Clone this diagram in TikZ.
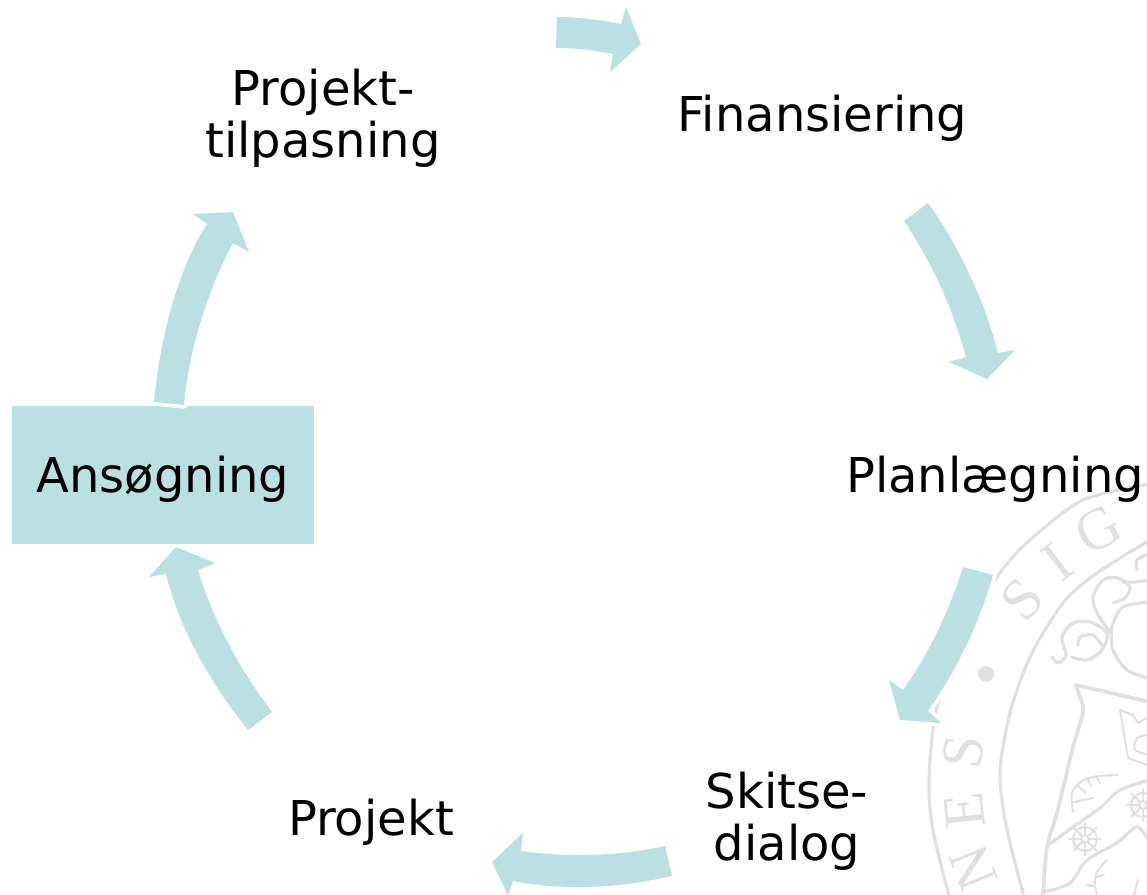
\documentclass[tikz,border=0pt]{standalone}
\usepackage{fontspec}
\setmainfont{DejaVu Sans}
\newfontfamily\sealfont{Liberation Serif}
\definecolor{cyc}{HTML}{BAE0E3}
\definecolor{sealgray}{HTML}{E0E0E0}
\tikzset{
  cyclearrow/.style={fill=cyc,draw=none,preaction={draw=white,line width=5.5pt,line join=round}},
  label/.style={font=\fontsize{36}{39}\selectfont,text=black,inner sep=0pt,align=center},
  sealline/.style={draw=sealgray,line width=2.4pt,line cap=round,line join=round},
  sealthin/.style={draw=sealgray,line width=1.6pt,line cap=round,line join=round},
  sealletter/.style={font=\sealfont\fontsize{44}{44}\selectfont,text=sealgray,inner sep=0pt}
}
\begin{document}
\begin{tikzpicture}[x=.75pt,y=-.75pt]
\useasboundingbox (0,0) rectangle (1147,895);
\begin{scope}
\clip (0,0) rectangle (1147,895);
% seal
\draw[sealline] plot[smooth] coordinates {(1150,484)(1083,500)(1030,540)(1000,573)(968,625)(937,707)(929,780)(933,830)(950,900)};
\draw[sealline] plot[smooth] coordinates {(1150,540)(1097,573)(1063,603)(1030,657)(1010,713)(1000,773)(1007,830)(1025,900)};
\fill[sealgray] (986,674) circle (8);
\node[sealletter,rotate=48] (sS) at (1022,600) {S};
\node[sealletter,rotate=38] (sI) at (1057,562) {I};
\node[sealletter,rotate=28] (sG) at (1098,530) {G};
\node[sealletter,rotate=83] (sS2) at (963,752) {S};
\node[sealletter,rotate=96] (sE) at (965,811) {E};
\node[sealletter,rotate=112] (sN) at (974,868) {N};
% flourishes
\draw[sealline] plot[smooth] coordinates {(1052,657)(1058,663)(1066,655)(1062,637)(1073,623)(1090,622)(1107,633)(1102,650)(1087,660)(1072,657)};
\draw[sealline] plot[smooth] coordinates {(1078,645)(1080,637)(1093,635)(1102,645)};
\draw[sealline] plot[smooth] coordinates {(1110,632)(1097,613)(1093,597)(1103,580)(1118,578)(1130,587)(1125,598)(1113,603)};
\draw[sealline] plot[smooth] coordinates {(1123,582)(1135,582)(1150,580)};
\draw[sealline] plot[smooth] coordinates {(1137,570)(1137,560)(1150,553)};
\draw[sealline] plot[smooth] coordinates {(1150,602)(1123,607)(1112,627)(1113,650)(1127,670)(1150,679)};
% shield
\draw[sealline,line width=2.8pt] plot[smooth] coordinates {(1081,700)(1083,713)(1073,747)(1057,813)(1047,847)(1043,895)};
\draw[sealline,line width=2.8pt] (1081,700) -- (1076,685) -- (1150,702);
\draw[sealline] plot[smooth] coordinates {(1048,845)(1073,827)(1100,808)(1120,790)(1150,780)};
\draw[sealline] plot[smooth] coordinates {(1045,892)(1070,883)(1087,860)(1117,843)(1137,827)(1150,842)};
% crown
\draw[sealthin] (1120,710) -- (1128,758) -- (1150,766);
\draw[sealthin] (1120,710) -- (1133,715) -- (1138,723) -- (1150,716);
\draw[sealthin] plot[smooth] coordinates {(1150,735)(1137,738)(1135,750)(1150,755)};
% leaf
\draw[sealthin] plot[smooth] coordinates {(1073,812)(1072,793)(1083,780)(1100,776)(1118,775)};
\draw[sealthin] (1074,802) -- (1093,798);
\draw[sealthin] (1078,786) -- (1086,793);
\draw[sealthin] (1087,778) -- (1091,786);
\draw[sealthin] (1096,776) -- (1100,783);
% rosettes
\foreach \cx/\cy/\n in {1085/839/a,1143/805/b}{
  \draw[sealthin] (\cx,\cy) circle (12);
  \draw[sealthin] (\cx,\cy) circle (4);
  \foreach \a in {0,45,...,315}{\draw[sealthin] (\cx,\cy) ++(\a:4) -- ++(\a:12);}
}
% plant
\draw[sealthin] plot[smooth] coordinates {(1107,860)(1097,872)(1095,884)(1098,898)};
\draw[sealthin] (1096,877) -- (1104,875);
\draw[sealthin] (1095,886) -- (1087,885);
\draw[sealthin] (1138,880) -- (1133,898);
\end{scope}
% arrow into the box, under it
\path[cyclearrow] (272,712) .. controls (240,670) and (213,620) .. (198,570) -- (215,563) -- (176,547) -- (149,577) -- (166,574) .. controls (178,625) and (208,680) .. (248,730) -- cycle;
% box
\node[fill=cyc,minimum width=302*.75pt,minimum height=138*.75pt,inner sep=0pt,outer sep=0pt] (boxA) at (163,475) {};
% arrows
\path[cyclearrow] (557,17) .. controls (578,17) and (600,20) .. (621,24) -- (626,7) -- (641,44) -- (610,72) -- (613,54) .. controls (594,50) and (575,48) .. (556,48) -- cycle;
\path[cyclearrow] (928,203) .. controls (955,240) and (983,295) .. (998,353) -- (1015,350) -- (987,379) -- (949,362) -- (966,357) .. controls (952,305) and (930,260) .. (904,221) -- cycle;
\path[cyclearrow] (993,575) .. controls (980,620) and (960,665) .. (928,711) -- (941,723) -- (900,720) -- (889,680) -- (903,690) .. controls (925,660) and (948,615) .. (963,567) -- cycle;
\path[cyclearrow] (665,846) .. controls (615,857) and (565,857) .. (521,851) -- (523,833) -- (492,862) -- (508,895) -- (513,881) .. controls (565,891) and (620,888) .. (672,876) -- cycle;
\path[cyclearrow] (184,405) .. controls (188,355) and (207,290) .. (233,243) -- (249,252) -- (233,212) -- (193,214) -- (207,224) .. controls (180,265) and (160,335) .. (154,402) -- cycle;
% labels
\node[label] (tPT) at (323,118) {Projekt-\\tilpasning};
\node[label] (tF) at (822.5,118) {Finansiering};
\node[label] (tP) at (995,479) {Planlægning};
\node[label] (tA) at (163,479) {Ansøgning};
\node[label] (tS) at (787,821) {Skitse-\\dialog};
\node[label] (tPr) at (371,822) {Projekt};
\end{tikzpicture}
\end{document}
